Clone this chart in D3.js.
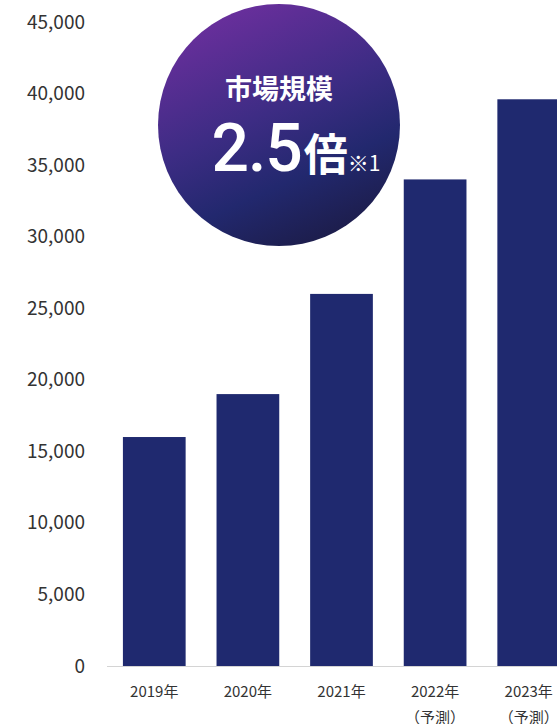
<!DOCTYPE html>
<html>
<head>
<meta charset="utf-8">
<script src="https://cdn.jsdelivr.net/npm/d3@7"></script>
<style>
  html, body { margin: 0; padding: 0; background: #fff; overflow: hidden; }
  svg { display: block; font-family: "Noto Sans CJK JP", "Noto Sans", sans-serif; }
</style>
</head>
<body>
<div id="grafico"></div>
<script>
// datos del gráfico
const anios = ["2019年", "2020年", "2021年", "2022年", "2023年"];
const notas = ["", "", "", "（予測）", "（予測）"];
const valores = [16000, 19000, 26000, 34000, 39600];
const marcasY = [0, 5000, 10000, 15000, 20000, 25000, 30000, 35000, 40000, 45000];
const tituloBurbuja = "市場規模";
const cifraBurbuja = "2.5";
const unidadBurbuja = "倍";
const notaBurbuja = "※1";

const ancho = 557, alto = 724;
const colorBarra = "#1f296f";

const $svg = d3.select("#grafico")
    .append("svg")
    .attr("width", ancho)
    .attr("height", alto);

const x = d3.scaleBand()
    .domain(anios)
    .range([107, 576])
    .paddingInner(0.33)
    .paddingOuter(0.17);

const y = d3.scaleLinear()
    .domain([0, 45000])
    .range([666, 22]);

// eje Y solo con textos
const ejeY = $svg.append("g")
    .attr("transform", "translate(107,0)")
    .call(d3.axisLeft(y)
        .tickValues(marcasY)
        .tickSize(0)
        .tickPadding(22)
        .tickFormat(d3.format(",")));
ejeY.select(".domain").remove();
ejeY.selectAll("text")
    .attr("font-family", "\"Noto Sans CJK JP\", \"Noto Sans\", sans-serif")
    .attr("font-size", 19)
    .attr("font-weight", 400)
    .attr("fill", "#333");

// barras
$svg.append("g")
    .selectAll("rect")
    .data(valores)
    .join("rect")
    .attr("x", (d, i) => x(anios[i]))
    .attr("y", d => y(d))
    .attr("width", x.bandwidth())
    .attr("height", d => y(0) - y(d))
    .attr("fill", colorBarra);

// línea base
$svg.append("line")
    .attr("x1", 107)
    .attr("x2", ancho)
    .attr("y1", y(0) + 0.5)
    .attr("y2", y(0) + 0.5)
    .attr("stroke", "#d4d4d4")
    .attr("stroke-width", 1.2);

// etiquetas del eje X
const etiquetas = $svg.append("g")
    .attr("font-size", 15)
    .attr("fill", "#333")
    .attr("text-anchor", "middle");
etiquetas.selectAll("text.anio")
    .data(anios)
    .join("text")
    .attr("class", "anio")
    .attr("x", d => x(d) + x.bandwidth() / 2)
    .attr("y", 690)
    .attr("dominant-baseline", "central")
    .text(d => d);
etiquetas.selectAll("text.nota")
    .data(notas)
    .join("text")
    .attr("class", "nota")
    .attr("x", (d, i) => x(anios[i]) + x.bandwidth() / 2)
    .attr("y", 716)
    .attr("dominant-baseline", "central")
    .text(d => d);

// burbuja con degradado
const defs = $svg.append("defs");
const degradado = defs.append("linearGradient")
    .attr("id", "degradado")
    .attr("x1", "25%").attr("y1", "0%")
    .attr("x2", "70%").attr("y2", "100%");
degradado.append("stop").attr("offset", "0%").attr("stop-color", "#6d2f9e");
degradado.append("stop").attr("offset", "45%").attr("stop-color", "#3d2c84");
degradado.append("stop").attr("offset", "72%").attr("stop-color", "#22286e");
degradado.append("stop").attr("offset", "100%").attr("stop-color", "#1c1c48");

const burbuja = $svg.append("g")
    .attr("transform", "translate(279,125)");
burbuja.append("circle")
    .attr("r", 121)
    .attr("fill", "url(#degradado)");
burbuja.append("text")
    .attr("x", 0)
    .attr("y", -38)
    .attr("text-anchor", "middle")
    .attr("dominant-baseline", "central")
    .attr("fill", "#fff")
    .attr("font-size", 27)
    .attr("font-weight", "bold")
    .text(tituloBurbuja);

const linea = burbuja.append("text")
    .attr("x", 17)
    .attr("y", 46)
    .attr("text-anchor", "middle")
    .attr("fill", "#fff");
linea.append("tspan")
    .attr("font-family", "Roboto, \"Noto Sans\", sans-serif")
    .attr("font-size", 66)
    .attr("font-weight", 500)
    .attr("letter-spacing", -1)
    .text(cifraBurbuja);
linea.append("tspan").attr("font-size", 44).attr("font-weight", "bold").attr("dx", 2).text(unidadBurbuja);
linea.append("tspan").attr("font-size", 21).attr("font-weight", "normal").text(notaBurbuja);
</script>
</body>
</html>
